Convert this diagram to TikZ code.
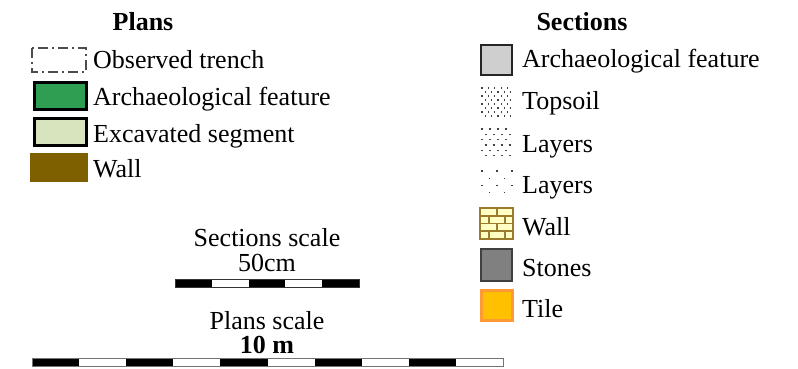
\documentclass[tikz,border=0pt]{standalone}
\usepackage{fontspec}
\setmainfont{Liberation Serif}
\begin{document}
\begin{tikzpicture}[x=1pt,y=-1pt,
  lbl/.style={anchor=base west,inner sep=0pt,font=\fontsize{26}{30}\selectfont},
  ttl/.style={anchor=base,inner sep=0pt,font=\fontsize{26}{30}\selectfont\bfseries},
  ctr/.style={anchor=base,inner sep=0pt,font=\fontsize{26}{30}\selectfont},
  dotc/.style={fill=black!75}]
\useasboundingbox[fill=white] (0,0) rectangle (798,369);
\definecolor{featgreen}{HTML}{2E9E52}
\definecolor{excgreen}{HTML}{D7E4BD}
\definecolor{wallbrown}{HTML}{7F6000}
\definecolor{brickfill}{HTML}{FFFFC4}
\definecolor{brickline}{HTML}{9C7C2C}
\definecolor{tilefill}{HTML}{FFC000}
\definecolor{tileline}{HTML}{FF9933}
% ---------- Plans ----------
\node[ttl] (plansT) at (143,31) {Plans};
\draw[line width=2.2pt,color=black!70,dash pattern=on 10pt off 4pt on 2pt off 4pt] (32,48) rectangle (86,72);
\node[lbl] (l1) at (93,69) {Observed trench};
\draw[line width=3pt,fill=featgreen] (34,83) rectangle (86,109);
\node[lbl] (l2) at (93,105) {Archaeological feature};
\draw[line width=3pt,fill=excgreen] (34,118) rectangle (86,145);
\node[lbl] (l3) at (93,142) {Excavated segment};
\fill[wallbrown] (30,153) rectangle (88,182);
\node[lbl] (l4) at (93,177) {Wall};
% ---------- Sections ----------
\node[ttl] (secT) at (582,31) {Sections};
\draw[line width=2pt,color=black!85,fill=black!19] (481,45) rectangle (512,75);
\node[lbl] (s1) at (522,68) {Archaeological feature};
% topsoil dots
\foreach \r in {0,...,7}{
  \pgfmathsetmacro{\yy}{88+\r*4}
  \pgfmathsetmacro{\off}{mod(\r,2)*3.2}
  \foreach \c in {0,...,4}{
    \fill[dotc] (482+\off+\c*6.4-0.65,\yy-0.65) rectangle ++(1.3,1.3);
  }
}
\node[lbl] (s2) at (522,110) {Topsoil};
% layers 1
\foreach \r in {0,...,5}{
  \pgfmathsetmacro{\yy}{129+\r*5.3}
  \pgfmathsetmacro{\off}{mod(\r,2)*4}
  \foreach \c in {0,...,3}{
    \fill[dotc] (482+\off+\c*8-0.65,\yy-0.65) rectangle ++(1.3,1.3);
  }
}
\node[lbl] (s3) at (522,152) {Layers};
% layers 2
\foreach \r in {0,...,3}{
  \pgfmathsetmacro{\yy}{171+\r*7.2}
  \pgfmathsetmacro{\off}{mod(\r,2)*7.5}
  \foreach \c in {0,...,2}{
    \pgfmathparse{(\off+\c*15)<=30 ? 1 : 0}
    \ifnum\pgfmathresult=1
      \fill[dotc] (482+\off+\c*15-0.65,\yy-0.65) rectangle ++(1.3,1.3);
    \fi
  }
}
\node[lbl] (s4) at (522,193) {Layers};
% wall bricks
\fill[brickfill] (480,208) rectangle (513,239);
\begin{scope}[brickline,line width=1.6pt]
  \draw (480,208) rectangle (513,239);
  \draw (480,215.75) -- (513,215.75) (480,223.5) -- (513,223.5) (480,231.25) -- (513,231.25);
  \draw (497,208) -- (497,215.75) (497,223.5) -- (497,231.25);
  \draw (489,215.75) -- (489,223.5) (505,215.75) -- (505,223.5);
  \draw (489,231.25) -- (489,239) (505,231.25) -- (505,239);
\end{scope}
\node[lbl] (s5) at (522,235) {Wall};
\draw[line width=2pt,color=black!75,fill=black!50] (481,249) rectangle (512,281);
\node[lbl] (s6) at (522,276) {Stones};
\draw[line width=3pt,color=tileline,fill=tilefill] (481,290) rectangle (512,320);
\node[lbl] (s7) at (522,317) {Tile};
% ---------- Scales ----------
\node[ctr] (secS) at (267,246) {Sections scale};
\node[ctr] (secV) at (267,271) {50cm};
\foreach \i in {0,...,4}{
  \pgfmathsetmacro{\xa}{175+\i*36.8}
  \ifodd\i
    \fill[white] (\xa,279) rectangle ++(36.8,8);
  \else
    \fill[black] (\xa,279) rectangle ++(36.8,8);
  \fi
}
\draw[line width=0.8pt,black!80] (175,279) rectangle (359,287);
\node[ctr] (plS) at (267,329) {Plans scale};
\node[ctr,font=\fontsize{26}{30}\selectfont\bfseries] (plV) at (267,353) {10 m};
\foreach \i in {0,...,9}{
  \pgfmathsetmacro{\xa}{32+\i*47.1}
  \ifodd\i
    \fill[white] (\xa,358) rectangle ++(47.1,8);
  \else
    \fill[black] (\xa,358) rectangle ++(47.1,8);
  \fi
}
\draw[line width=0.8pt,black!55] (32,358) rectangle (503,366);
\end{tikzpicture}
\end{document}
